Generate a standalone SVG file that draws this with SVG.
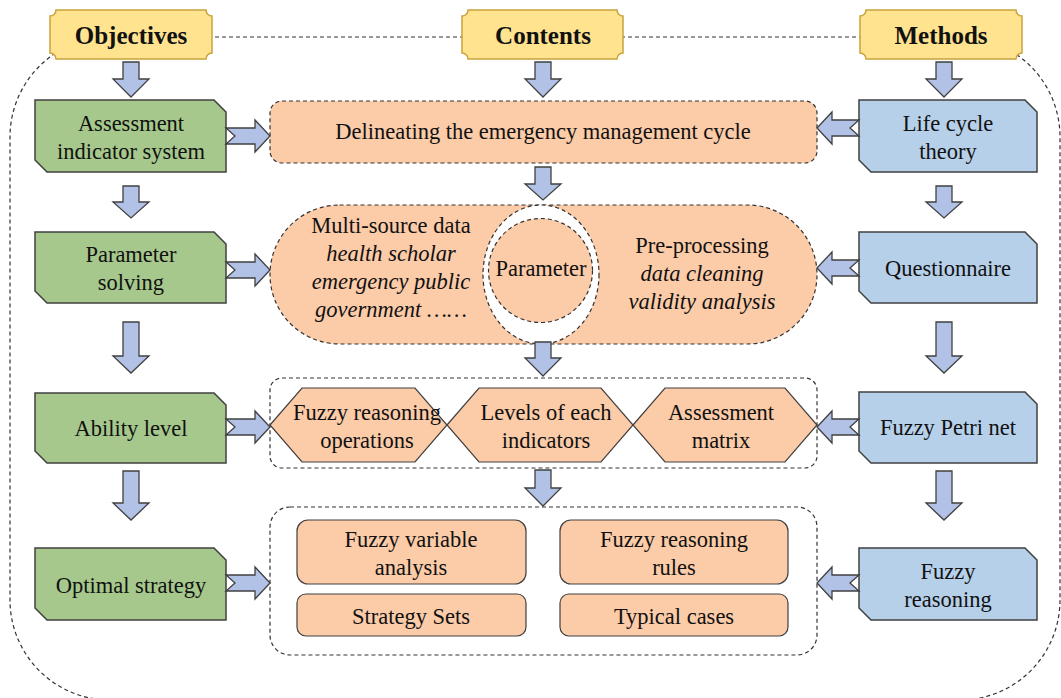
<svg xmlns="http://www.w3.org/2000/svg" width="1061" height="698" viewBox="0 0 1061 698">
<style>
text{font-family:'Liberation Serif','DejaVu Serif','Noto Serif',serif;font-size:22.5px;fill:#111;text-anchor:middle;dominant-baseline:central}
.hd{font-weight:bold;font-size:25px}
.it{font-style:italic}
.hdr{fill:#FFE38F;stroke:#C9A43C;stroke-width:1.5}
.gr{fill:#A6C88C;stroke:#404040;stroke-width:1.5}
.bl{fill:#B6D0EA;stroke:#404040;stroke-width:1.5}
.pc{fill:#FCCBA8;stroke:#404040;stroke-width:1.2}
.pd{fill:#FCCBA8;stroke:#333;stroke-width:1.2;stroke-dasharray:4 3}
.dash{fill:none;stroke:#333;stroke-width:1.2;stroke-dasharray:4 3}
.ar{fill:#B2C2E6;stroke:#404040;stroke-width:1.3}
</style>
<rect x="0" y="0" width="1061" height="698" fill="#fff"/>
<g id="frame">
<rect class="dash" x="10" y="37" width="1050" height="663" rx="100"/>
</g>
<g font-family="Liberation Serif, DejaVu Serif, serif">
<g id="hdr-objectives">
<path class="hdr" d="M56 10 H206 A6 6 0 0 0 212 16 V53 A6 6 0 0 0 206 59 H56 A6 6 0 0 0 50 53 V16 A6 6 0 0 0 56 10 Z"/>
<text class="hd" x="131" y="35">Objectives</text>
</g>
<g id="hdr-contents">
<path class="hdr" d="M468 10 H617 A6 6 0 0 0 623 16 V53 A6 6 0 0 0 617 59 H468 A6 6 0 0 0 462 53 V16 A6 6 0 0 0 468 10 Z"/>
<text class="hd" x="543" y="35">Contents</text>
</g>
<g id="hdr-methods">
<path class="hdr" d="M866 10 H1016 A6 6 0 0 0 1022 16 V53 A6 6 0 0 0 1016 59 H866 A6 6 0 0 0 860 53 V16 A6 6 0 0 0 866 10 Z"/>
<text class="hd" x="941" y="35">Methods</text>
</g>

<g id="obj-assessment">
<path class="gr" d="M35 100 H214 L226 112 V172 H47 L35 160 Z"/>
<text x="131" y="123">Assessment</text>
<text x="131" y="151">indicator system</text>
</g>
<g id="obj-parameter">
<path class="gr" d="M35 232 H214 L226 244 V303 H47 L35 291 Z"/>
<text x="131" y="254">Parameter</text>
<text x="131" y="282">solving</text>
</g>
<g id="obj-ability">
<path class="gr" d="M35 393 H214 L226 405 V463 H47 L35 451 Z"/>
<text x="131" y="428">Ability level</text>
</g>
<g id="obj-optimal">
<path class="gr" d="M35 548 H214 L226 560 V620 H47 L35 608 Z"/>
<text x="131" y="585">Optimal strategy</text>
</g>

<g id="m-lifecycle">
<path class="bl" d="M859 100 H1025 L1037 112 V172 H871 L859 160 Z"/>
<text x="948" y="123">Life cycle</text>
<text x="948" y="151">theory</text>
</g>
<g id="m-questionnaire">
<path class="bl" d="M859 232 H1025 L1037 244 V303 H871 L859 291 Z"/>
<text x="948" y="268">Questionnaire</text>
</g>
<g id="m-petri">
<path class="bl" d="M859 392 H1025 L1037 404 V463 H871 L859 451 Z"/>
<text x="948" y="427">Fuzzy Petri net</text>
</g>
<g id="m-reasoning">
<path class="bl" d="M859 548 H1025 L1037 560 V620 H871 L859 608 Z"/>
<text x="948" y="571">Fuzzy</text>
<text x="948" y="599">reasoning</text>
</g>

<g id="c-delineating">
<rect class="pd" x="270" y="101" width="547" height="62" rx="12"/>
<text x="543" y="131">Delineating the emergency management cycle</text>
</g>
<g id="c-parameter">
<rect class="pd" x="270" y="205" width="547" height="139" rx="69.5"/>
<ellipse cx="541" cy="274.5" rx="58" ry="69.5" fill="#fff" stroke="#333" stroke-width="1.2" stroke-dasharray="4 3"/>
<circle class="pd" cx="540.5" cy="270.5" r="52"/>
<text x="391" y="225">Multi-source data</text>
<text class="it" x="391" y="253">health scholar</text>
<text class="it" x="391" y="281">emergency public</text>
<text class="it" x="391" y="309">government ……</text>
<text x="541" y="268">Parameter</text>
<text x="702" y="245">Pre-processing</text>
<text class="it" x="702" y="273">data cleaning</text>
<text class="it" x="702" y="301">validity analysis</text>
</g>
<g id="c-ability">
<rect class="dash" x="270" y="378" width="547" height="90" rx="12"/>
<path class="pc" d="M270 425 L302 388 H415 L447 425 L415 462 H302 Z"/>
<path class="pc" d="M447 425 L479 388 H601 L633 425 L601 462 H479 Z"/>
<path class="pc" d="M633 425 L665 388 H785 L817 425 L785 462 H665 Z"/>
<text x="367" y="412">Fuzzy reasoning</text>
<text x="367" y="440">operations</text>
<text x="546" y="412">Levels  of each</text>
<text x="546" y="440">indicators</text>
<text x="721" y="412">Assessment</text>
<text x="721" y="440">matrix</text>
</g>
<g id="c-strategy">
<rect class="dash" x="270" y="507" width="547" height="148" rx="20"/>
<rect class="pc" x="297" y="520" width="229" height="64" rx="11"/>
<rect class="pc" x="560" y="520" width="228" height="64" rx="11"/>
<rect class="pc" x="297" y="594" width="229" height="42" rx="9"/>
<rect class="pc" x="560" y="594" width="228" height="42" rx="9"/>
<text x="411" y="539">Fuzzy variable</text>
<text x="411" y="567">analysis</text>
<text x="674" y="539">Fuzzy reasoning</text>
<text x="674" y="567">rules</text>
<text x="411" y="616">Strategy Sets</text>
<text x="674" y="616">Typical cases</text>
</g>
</g>

<g id="connectors">
<path class="ar" d="M123 62 H139 V79 H149 L131 97 L113 79 H123 Z"/>
<path class="ar" d="M123 186 H139 V202 H149 L131 218 L113 202 H123 Z"/>
<path class="ar" d="M123 322 H139 V356 H149 L131 373 L113 356 H123 Z"/>
<path class="ar" d="M123 471 H139 V503 H149 L131 520 L113 503 H123 Z"/>
<path class="ar" d="M535 62 H551 V79 H561 L543 97 L525 79 H535 Z"/>
<path class="ar" d="M535 167 H551 V184 H561 L543 200 L525 184 H535 Z"/>
<path class="ar" d="M535 342 H551 V358 H561 L543 376 L525 358 H535 Z"/>
<path class="ar" d="M535 470 H551 V488 H561 L543 506 L525 488 H535 Z"/>
<path class="ar" d="M936 62 H952 V79 H962 L944 97 L926 79 H936 Z"/>
<path class="ar" d="M936 186 H952 V202 H962 L944 218 L926 202 H936 Z"/>
<path class="ar" d="M936 322 H952 V356 H962 L944 373 L926 356 H936 Z"/>
<path class="ar" d="M936 471 H952 V503 H962 L944 520 L926 503 H936 Z"/>
<path class="ar" d="M226 128 H255 V120 L270 136 L255 152 V144 H226 L235 136 Z"/>
<path class="ar" d="M226 262 H255 V254 L270 270 L255 286 V278 H226 L235 270 Z"/>
<path class="ar" d="M226 419 H255 V411 L270 427 L255 443 V435 H226 L235 427 Z"/>
<path class="ar" d="M226 575 H255 V567 L270 583 L255 599 V591 H226 L235 583 Z"/>
<path class="ar" d="M859 120 H832 V112 L817 128 L832 144 V136 H859 L850 128 Z"/>
<path class="ar" d="M859 260 H832 V252 L817 268 L832 284 V276 H859 L850 268 Z"/>
<path class="ar" d="M859 419 H832 V411 L817 427 L832 443 V435 H859 L850 427 Z"/>
<path class="ar" d="M859 575 H832 V567 L817 583 L832 599 V591 H859 L850 583 Z"/>
</g>
</svg>
